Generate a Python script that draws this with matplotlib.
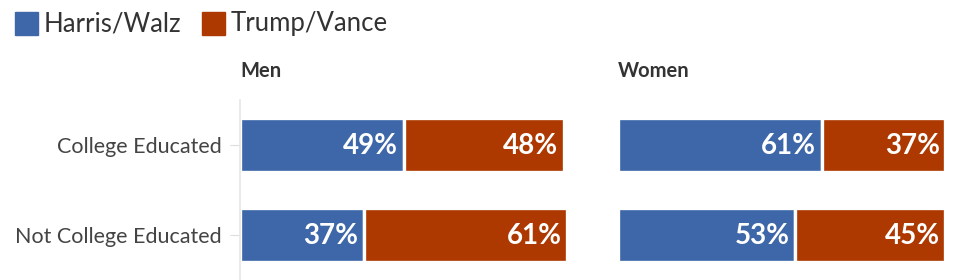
import matplotlib
matplotlib.use("Agg")
import matplotlib.pyplot as plt
from matplotlib.patches import Rectangle

plt.rcParams['font.family'] = ['Lato', 'DejaVu Sans']

# dados
categorias = ["College Educated", "Not College Educated"]
paineis = ["Men", "Women"]
harris = {"Men": [49, 37], "Women": [61, 53]}
trump = {"Men": [48, 61], "Women": [37, 45]}
series = ["Harris/Walz", "Trump/Vance"]

azul = "#3d67a8"
vermelho = "#ad3800"

W, H = 958, 280
fig = plt.figure(figsize=(W / 100, H / 100), dpi=100)

def px(x0, y0, w, h):
    # caixa em pixels (y a partir do topo) -> fracoes da figura
    return [x0 / W, 1 - (y0 + h) / H, w / W, h / H]

lefts = {"Men": 240, "Women": 618}

for p in paineis:
    ax = fig.add_axes(px(lefts[p], 100, 334, 180))
    y = range(len(categorias))
    hb = ax.barh(y, harris[p], height=0.6, color=azul, edgecolor="white", linewidth=2.4)
    tb = ax.barh(y, trump[p], left=harris[p], height=0.6, color=vermelho,
                 edgecolor="white", linewidth=2.4)
    for barras, vals in [(hb, harris[p]), (tb, trump[p])]:
        for b, v in zip(barras, vals):
            ax.annotate(f"{v}%", (b.get_x() + b.get_width(), b.get_y() + b.get_height() / 2),
                        xytext=(-4, -1), textcoords="offset points", ha="right", va="center",
                        color="white", fontsize=20, fontweight="bold")
    ax.set_xlim(0, 100)
    ax.set_ylim(1.5, -0.5)
    ax.set_xticks([])
    for s in ["top", "right", "bottom"]:
        ax.spines[s].set_visible(False)
    if p == "Men":
        ax.spines["left"].set_color("#e6e6e6")
        ax.spines["left"].set_linewidth(1.2)
        ax.set_yticks(list(y))
        ax.set_yticklabels(categorias, fontsize=15.5, color="#444444")
        ax.tick_params(axis="y", length=7, color="#dddddd", pad=6)
    else:
        ax.spines["left"].set_visible(False)
        ax.set_yticks([])
    fig.text(lefts[p] / W, 1 - 71 / H, p, fontsize=14.5, fontweight="bold",
             color="#333333", ha="left", va="center")

# legenda
for x0, cor, nome in [(15, azul, series[0]), (202, vermelho, series[1])]:
    fig.add_artist(Rectangle((x0 / W, 1 - 35 / H), 23 / W, 23 / H,
                             transform=fig.transFigure, color=cor))
    fig.text((x0 + 29) / W, 1 - 24 / H, nome, fontsize=18.5, color="#333333",
             ha="left", va="center")

fig.savefig("out.png", dpi=100)
